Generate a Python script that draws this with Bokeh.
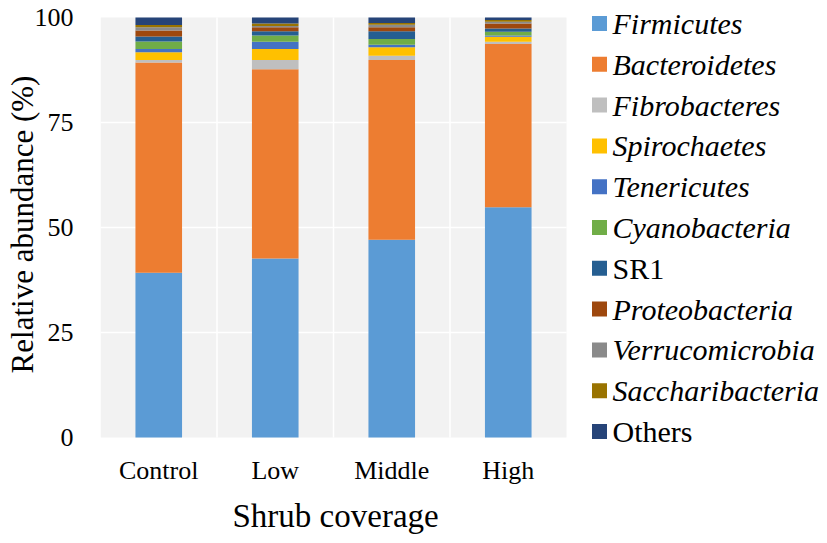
from bokeh.plotting import figure
from bokeh.models import FixedTicker, Range1d, ColumnDataSource, Title
from bokeh.embed import file_html
from bokeh.resources import INLINE
from bokeh.core.properties import value

groups = ["Control", "Low", "Middle", "High"]
phyla = ["Firmicutes", "Bacteroidetes", "Fibrobacteres", "Spirochaetes", "Tenericutes",
         "Cyanobacteria", "SR1", "Proteobacteria", "Verrucomicrobia", "Saccharibacteria", "Others"]
italic = [True, True, True, True, True, True, False, True, True, True, False]
colors = ["#5B9BD5", "#ED7D31", "#BFBFBF", "#FFC000", "#4472C4", "#70AD47",
          "#255E91", "#9E480E", "#8A8A8A", "#997300", "#264478"]

Firmicutes = [39.2, 42.6, 47.1, 54.8]
Bacteroidetes = [50.1, 45.1, 42.8, 38.9]
Fibrobacteres = [0.6, 2.2, 1.0, 0.5]
Spirochaetes = [1.8, 2.6, 2.0, 1.2]
Tenericutes = [0.8, 1.7, 0.6, 0.3]
Cyanobacteria = [1.8, 1.5, 1.4, 0.9]
SR1 = [1.2, 1.0, 1.8, 0.8]
Proteobacteria = [1.4, 1.0, 1.0, 1.2]
Verrucomicrobia = [0.8, 0.3, 0.6, 0.4]
Saccharibacteria = [0.5, 0.6, 0.4, 0.4]
Others = [1.8, 1.4, 1.3, 0.6]

y_ticks = [0, 25, 50, 75, 100]

SERIF = "Liberation Serif"

# layout geometry (pixels)
W, H = 826, 543
FRAME_L = 100
PLOT_TOP_PX = 17             # pixel row of y = 100
PX_PER_CAT = 116.5
PX_PER_PCT = 4.2
PAD_BELOW_PX = 11            # frame extends below y=0 so legend text is not clipped
frame_bottom = PLOT_TOP_PX + 100 * PX_PER_PCT + PAD_BELOW_PX
FRAME_B = H - int(round(frame_bottom))
frame_w = W - FRAME_L
frame_h = H - FRAME_B
x_end = frame_w / PX_PER_CAT
y_end = y_ticks[-1] + PLOT_TOP_PX / PX_PER_PCT
y_start = y_end - frame_h / PX_PER_PCT

n_g = len(groups)
xc = [i + 0.5 for i in range(n_g)]
data = {"x": xc}
for name in phyla:
    data[name] = globals()[name]
src = ColumnDataSource(data)

p = figure(x_range=Range1d(0, x_end), y_range=Range1d(y_start, y_end), output_backend="svg",
           toolbar_location=None, width=W, height=H,
           min_border_left=FRAME_L, min_border_top=0, min_border_right=0, min_border_bottom=FRAME_B,
           border_fill_color="#FFFFFF", background_fill_color="#FFFFFF")
p.outline_line_color = None
p.grid.visible = False

# plot-area background and white grid
p.quad(left=[0], right=[n_g], bottom=[y_ticks[0]], top=[y_ticks[-1]],
       fill_color="#F2F2F2", line_color=None)
p.segment(x0=list(range(1, n_g)), x1=list(range(1, n_g)),
          y0=[y_ticks[0]] * (n_g - 1), y1=[y_ticks[-1]] * (n_g - 1),
          line_color="#FFFFFF", line_width=1.5)
p.segment(x0=[0] * 3, x1=[n_g] * 3, y0=y_ticks[1:-1], y1=y_ticks[1:-1],
          line_color="#FFFFFF", line_width=1.5)

p.vbar_stack(phyla, x="x", width=0.4, source=src, color=colors, line_color=None)

p.xaxis.ticker = FixedTicker(ticks=xc)
p.xaxis.major_label_overrides = {x: g for x, g in zip(xc, groups)}
p.yaxis.ticker = FixedTicker(ticks=y_ticks)
for ax in (p.xaxis[0], p.yaxis[0]):
    ax.axis_line_color = None
    ax.major_tick_line_color = None
    ax.minor_tick_line_color = None
    ax.major_tick_out = 0
    ax.major_tick_in = 0
    ax.major_label_text_font = SERIF
    ax.major_label_text_font_size = "26px"
    ax.major_label_text_color = "#000000"

p.yaxis.axis_label = "Relative abundance (%)"
p.yaxis.axis_label_text_font = SERIF
p.yaxis.axis_label_text_font_style = "normal"
p.yaxis.axis_label_text_color = "#000000"
p.yaxis.axis_label_text_font_size = "31px"
p.yaxis.major_label_standoff = 27
p.yaxis.axis_label_standoff = -8
p.xaxis.major_label_standoff = 7

p.add_layout(Title(text="Shrub coverage", align="left", offset=132, standoff=16,
                   text_font=SERIF, text_font_size="33px", text_font_style="normal",
                   text_color="#000000"), "below")

# legend drawn as glyphs to the right of the plot area
n = len(phyla)
leg_x = (599 - FRAME_L) / PX_PER_CAT      # square centre
leg_tx = (612 - FRAME_L) / PX_PER_CAT     # label start
leg_y0 = y_end - 23 / PX_PER_PCT
leg_dy = 40.8 / PX_PER_PCT
leg = ColumnDataSource(dict(
    x=[leg_x] * n,
    y=[leg_y0 - leg_dy * i for i in range(n)],
    tx=[leg_tx] * n,
    name=phyla,
    color=colors,
    style=["italic" if it else "normal" for it in italic],
))
p.scatter("x", "y", source=leg, marker="square", size=15, color="color", line_color=None)
p.text("tx", "y", text="name", source=leg, text_font=value(SERIF), text_font_size="30px",
       text_font_style="style", text_baseline="middle", text_align="left", text_color="#000000")

open("out.html", "w").write(file_html(p, INLINE))
